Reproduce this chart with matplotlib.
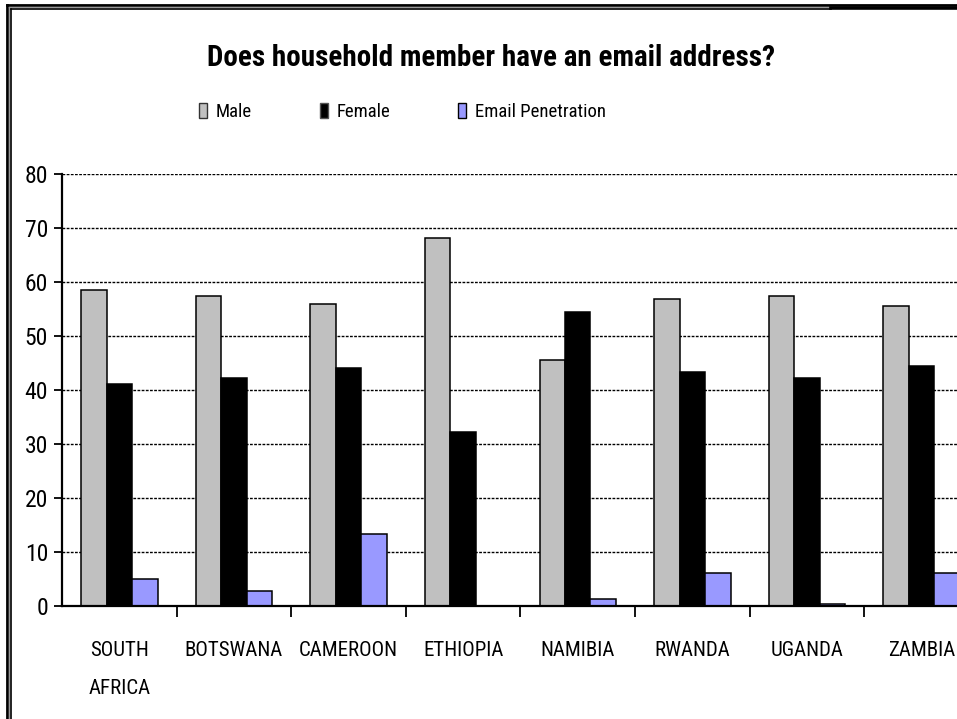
import numpy as np
import matplotlib
matplotlib.use("Agg")
import matplotlib.pyplot as plt
from matplotlib.lines import Line2D
from matplotlib.patches import Patch

# survey shares (%) per country
countries = ["SOUTH\nAFRICA", "BOTSWANA", "CAMEROON", "ETHIOPIA",
             "NAMIBIA", "RWANDA", "UGANDA", "ZAMBIA"]
male = [58.5, 57.4, 55.9, 68.1, 45.5, 56.9, 57.4, 55.5]
female = [41.1, 42.3, 44.0, 32.2, 54.4, 43.4, 42.3, 44.5]
email_pen = [5.1, 2.8, 13.3, 0.0, 1.4, 6.2, 0.4, 6.1]
series_names = ["Male", "Female", "Email Penetration"]
y_ticks = [0, 10, 20, 30, 40, 50, 60, 70, 80]

plt.rcParams["font.family"] = ["Roboto Condensed", "DejaVu Sans"]

COL_MALE = "#C0C0C0"
COL_FEMALE = "#000000"
COL_EMAIL = "#9999FF"

fig = plt.figure(figsize=(9.57, 7.19), dpi=100)
# plot area runs past the right edge of the figure
ax = fig.add_axes([0.0648, 0.157, 0.958, 0.601])

x = np.arange(len(countries))
w = 1 / 4.5
ax.bar(x - w, male, w, color=COL_MALE, edgecolor="black", linewidth=1.1, zorder=3)
ax.bar(x, female, w, color=COL_FEMALE, edgecolor="black", linewidth=1.1, zorder=3)
ax.bar(x + w, email_pen, w, color=COL_EMAIL, edgecolor="black", linewidth=1.1, zorder=3)

ax.set_xlim(-0.5, len(countries) - 0.5)
ax.set_ylim(0, 80)
ax.set_yticks(y_ticks)
ax.set_yticklabels([str(v) for v in y_ticks], fontsize=17)
ax.yaxis.grid(True, color="black", linestyle=(0, (2.0, 1.0)), linewidth=1.0, zorder=0)

# category boundaries get the tick marks, centres get the labels
ax.set_xticks(np.arange(len(countries) - 1) + 0.5)
ax.set_xticklabels([])
ax.set_xticks(x, minor=True)
ax.set_xticklabels(countries, minor=True, fontsize=15, linespacing=2.25)
ax.tick_params(axis="x", which="major", length=8, width=1.3, direction="out")
ax.tick_params(axis="x", which="minor", length=0, pad=25)
ax.tick_params(axis="y", length=6, width=1.3, direction="out", pad=4)

for side in ("top", "right"):
    ax.spines[side].set_visible(False)
for side in ("left", "bottom"):
    ax.spines[side].set_linewidth(1.6)
    ax.spines[side].set_zorder(4)

fig.text(0.513, 0.919, "Does household member have an email address?",
         ha="center", va="center", fontsize=21, fontweight="bold")

handles = [Patch(facecolor=COL_MALE, edgecolor="#333333", linewidth=1.0),
           Patch(facecolor=COL_FEMALE, edgecolor="#555555", linewidth=1.0),
           Patch(facecolor=COL_EMAIL, edgecolor="black", linewidth=1.0)]
fig.legend(handles, series_names, loc="center left", bbox_to_anchor=(0.208, 0.844),
           ncol=3, frameon=False, fontsize=13.5, handlelength=0.45, handleheight=0.85,
           handletextpad=0.45, columnspacing=3.6, borderpad=0, borderaxespad=0)

# double frame along the left and top edges
for xs, ys, c, lw in [([0.0078, 0.0078], [0, 0.9925], "black", 2.0),
                      ([0.0098, 0.0098], [0, 0.990], "#999999", 1.0),
                      ([0.0112, 0.0112], [0, 0.988], "black", 1.2),
                      ([0.0078, 1], [0.9925, 0.9925], "black", 2.0),
                      ([0.0098, 1], [0.990, 0.990], "#999999", 1.0),
                      ([0.0112, 0.868], [0.988, 0.988], "black", 1.2),
                      ([0.868, 1], [0.989, 0.989], "black", 2.6)]:
    fig.add_artist(Line2D(xs, ys, color=c, linewidth=lw, transform=fig.transFigure))

fig.savefig("out.png", dpi=100)
